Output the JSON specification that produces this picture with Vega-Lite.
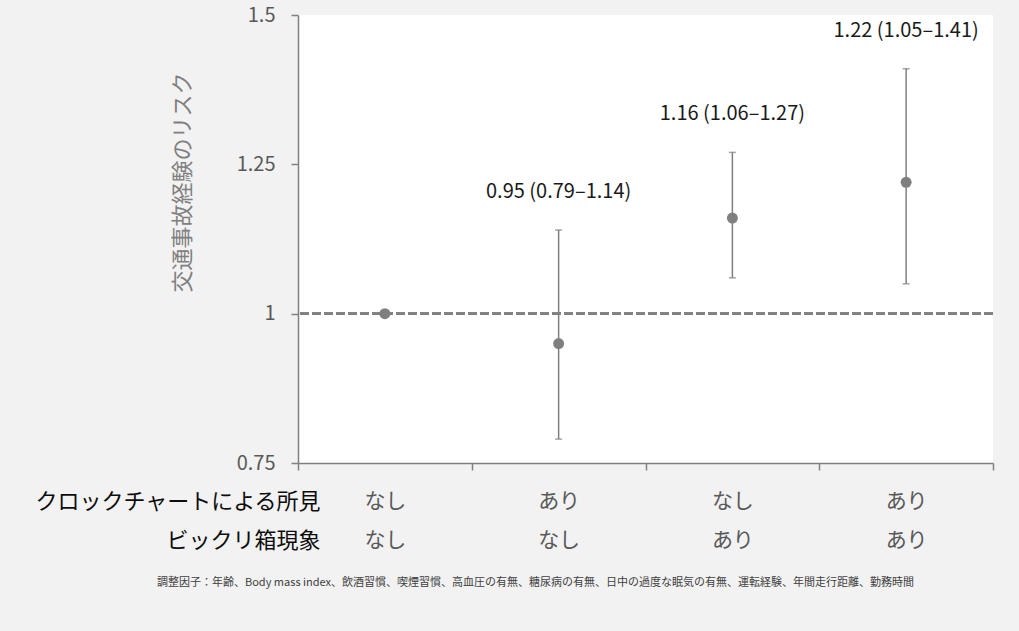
{
  "$schema": "https://vega.github.io/schema/vega-lite/v6.json",
  "description": "Risk of traffic accident experience by clock chart findings and jack-in-the-box phenomenon",
  "width": 695,
  "height": 448,
  "autosize": {"type": "none"},
  "padding": {"left": 298, "top": 15, "right": 26, "bottom": 168},
  "background": "#f2f2f2",
  "config": {
    "font": "Noto Sans CJK JP",
    "view": {"fill": "white", "stroke": null}
  },
  "title": {
    "text": "調整因子：年齢、Body mass index、飲酒習慣、喫煙習慣、高血圧の有無、糖尿病の有無、日中の過度な眠気の有無、運転経験、年間走行距離、勤務時間",
    "orient": "bottom",
    "anchor": "middle",
    "frame": "group",
    "dx": -110,
    "offset": 26,
    "fontSize": 11,
    "fontWeight": "normal",
    "color": "#404040"
  },
  "data": {
    "values": [
      {"group": "なし|なし", "or": 1.0, "lo": null, "hi": null, "label": ""},
      {"group": "あり|なし", "or": 0.95, "lo": 0.79, "hi": 1.14, "label": "0.95 (0.79–1.14)"},
      {"group": "なし|あり", "or": 1.16, "lo": 1.06, "hi": 1.27, "label": "1.16 (1.06–1.27)"},
      {"group": "あり|あり", "or": 1.22, "lo": 1.05, "hi": 1.41, "label": "1.22 (1.05–1.41)"}
    ]
  },
  "layer": [
    {
      "mark": {"type": "rule", "color": "#7f7f7f", "strokeWidth": 2.5, "strokeDash": [9, 3]},
      "encoding": {
        "y": {
          "datum": 1,
          "type": "quantitative",
          "scale": {"domain": [0.75, 1.5], "nice": false, "zero": false},
          "axis": {
            "title": "交通事故経験のリスク",
            "titleFontSize": 22,
            "titleFontWeight": "normal",
            "titleColor": "#808080",
            "titleAngle": -90,
            "titleAlign": "center",
            "titleBaseline": "middle",
            "titleX": -116,
            "titleY": 167,
            "values": [0.75, 1, 1.25, 1.5],
            "labelExpr": "datum.value + ''",
            "labelFontSize": 20,
            "labelColor": "#595959",
            "labelPadding": 16,
            "grid": false,
            "tickSize": 7,
            "tickWidth": 1.5,
            "tickColor": "#808080",
            "domainColor": "#808080",
            "domainWidth": 1.5
          }
        }
      }
    },
    {
      "encoding": {
        "x": {
          "field": "group",
          "type": "nominal",
          "scale": {
            "domain": ["なし|なし", "あり|なし", "なし|あり", "あり|あり"],
            "paddingInner": 0,
            "paddingOuter": 0
          },
          "axis": {
            "title": ["クロックチャートによる所見", "ビックリ箱現象"],
            "titleFontSize": 22,
            "titleFontWeight": "normal",
            "titleColor": "#0d0d0d",
            "titleAlign": "right",
            "titleBaseline": "top",
            "titleLineHeight": 39,
            "titleX": 22,
            "titleY": 28,
            "labelExpr": "split(datum.label, '|')",
            "labelAngle": 0,
            "labelFontSize": 21,
            "labelColor": "#595959",
            "labelBaseline": "top",
            "labelLineHeight": 39,
            "labelPadding": 20,
            "tickBand": "extent",
            "tickSize": 7,
            "tickWidth": 1.5,
            "tickColor": "#808080",
            "domainColor": "#808080",
            "domainWidth": 1.5
          }
        }
      },
      "layer": [
        {
          "mark": {"type": "rule", "color": "#7f7f7f", "strokeWidth": 1.5},
          "encoding": {
            "y": {"field": "lo", "type": "quantitative"},
            "y2": {"field": "hi"}
          }
        },
        {
          "mark": {"type": "tick", "color": "#7f7f7f", "size": 7, "thickness": 1.5},
          "encoding": {"y": {"field": "lo", "type": "quantitative"}}
        },
        {
          "mark": {"type": "tick", "color": "#7f7f7f", "size": 7, "thickness": 1.5},
          "encoding": {"y": {"field": "hi", "type": "quantitative"}}
        },
        {
          "mark": {"type": "point", "shape": "circle", "filled": true, "size": 120, "color": "#7f7f7f", "opacity": 1},
          "encoding": {"y": {"field": "or", "type": "quantitative"}}
        },
        {
          "transform": [{"filter": "datum.hi != null"}],
          "mark": {"type": "text", "fontSize": 20, "color": "#1a1a1a", "baseline": "middle", "dy": -38},
          "encoding": {
            "y": {"field": "hi", "type": "quantitative"},
            "text": {"field": "label"}
          }
        }
      ]
    }
  ]
}
